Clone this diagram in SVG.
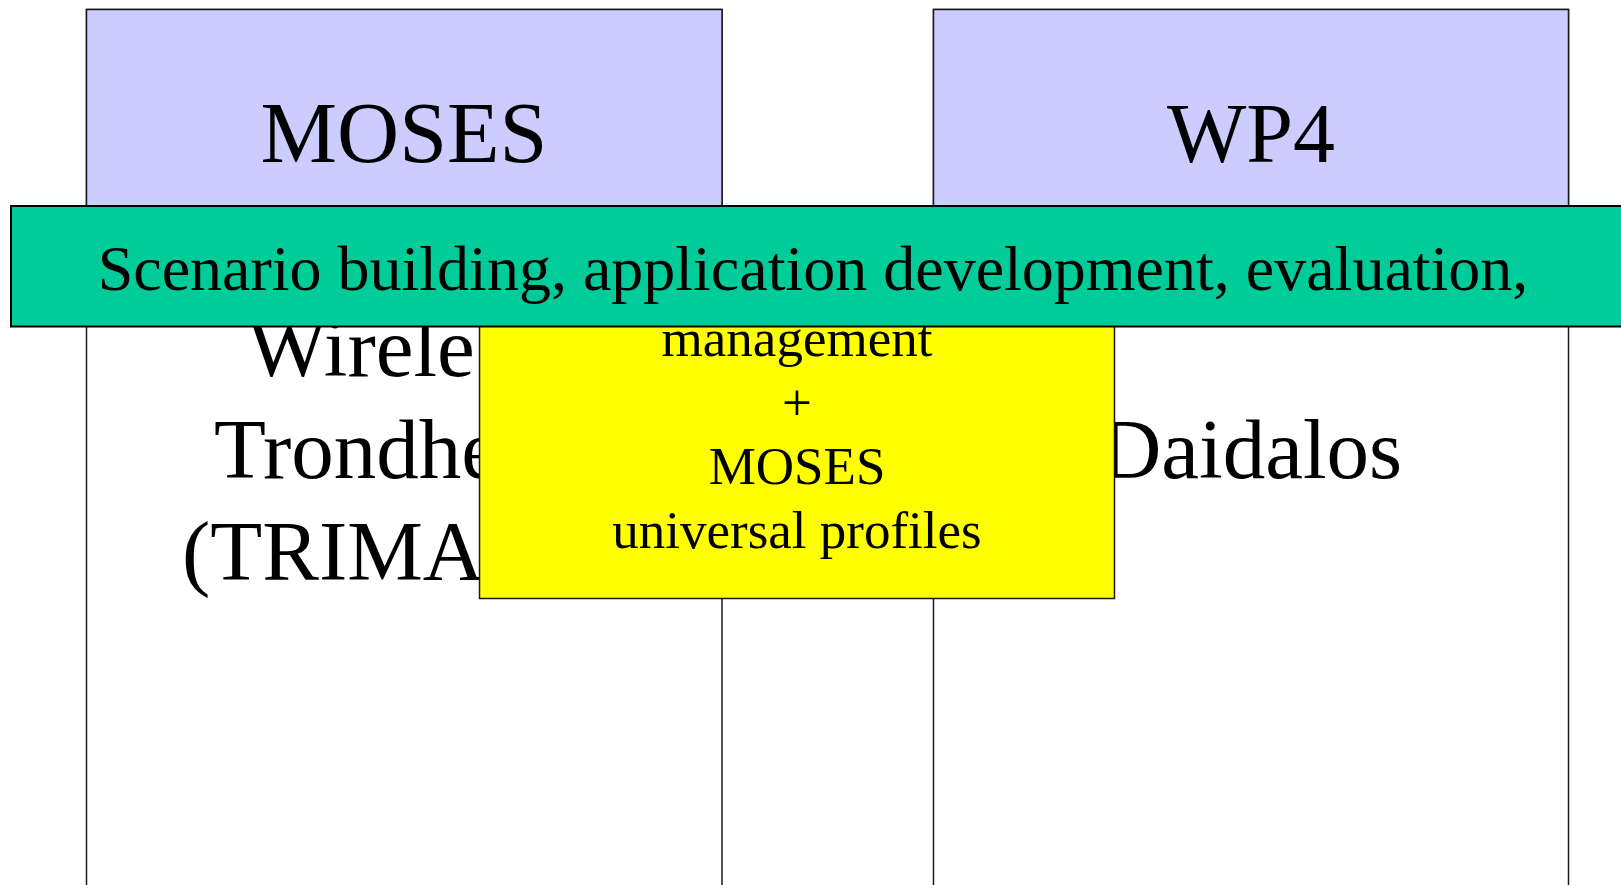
<svg xmlns="http://www.w3.org/2000/svg" width="1621" height="885" viewBox="0 0 1621 885">
<style>
.col{fill:#ffffff;stroke:#1a1a1a;stroke-width:1.5}
.head{fill:#ccccff;stroke:#1a1a1a;stroke-width:1.5}
.t{font-family:"Liberation Serif","Times New Roman",serif;fill:#000}
.title{font-size:86px;text-anchor:middle}
.body{font-size:85px}
.ybox{fill:#ffff00;stroke:#1a1a1a;stroke-width:1.5}
.ytxt{font-size:53px;text-anchor:middle}
.band{fill:#00cc99;stroke:#000;stroke-width:2}
.btxt{font-size:64px;text-anchor:middle}
</style>
<rect width="1621" height="885" fill="#ffffff"/>
<g id="moses-column">
<rect class="col" x="86.5" y="9.5" width="635.5" height="900"/>
<rect class="head" x="86.5" y="9.5" width="635.5" height="200"/>
<text class="t title" x="404" y="162">MOSES</text>
<text class="t body" x="247" y="376">Wirele</text>
<text class="t body" x="214" y="478">Trondhe</text>
<text class="t body" x="182" y="580">(TRIMA</text>
</g>
<g id="wp4-column">
<rect class="col" x="933.5" y="9.5" width="635" height="900"/>
<rect class="head" x="933.5" y="9.5" width="635" height="200"/>
<text class="t title" x="1251" y="162" style="font-size:84px">WP4</text>
<text class="t body" x="1251" y="478" text-anchor="middle">Daidalos</text>
</g>
<g id="profiles-box">
<rect class="ybox" x="479.5" y="240" width="635" height="358.5"/>
<text class="t ytxt" x="797" y="356">management</text>
<text class="t ytxt" x="797" y="420">+</text>
<text class="t ytxt" x="797" y="484">MOSES</text>
<text class="t ytxt" x="797" y="548">universal profiles</text>
</g>
<g id="scenario-band">
<rect class="band" x="11" y="206" width="1640" height="120.5"/>
<text class="t btxt" x="813" y="290">Scenario building, application development, evaluation,</text>
</g>
<g id="connectors"></g>
</svg>
